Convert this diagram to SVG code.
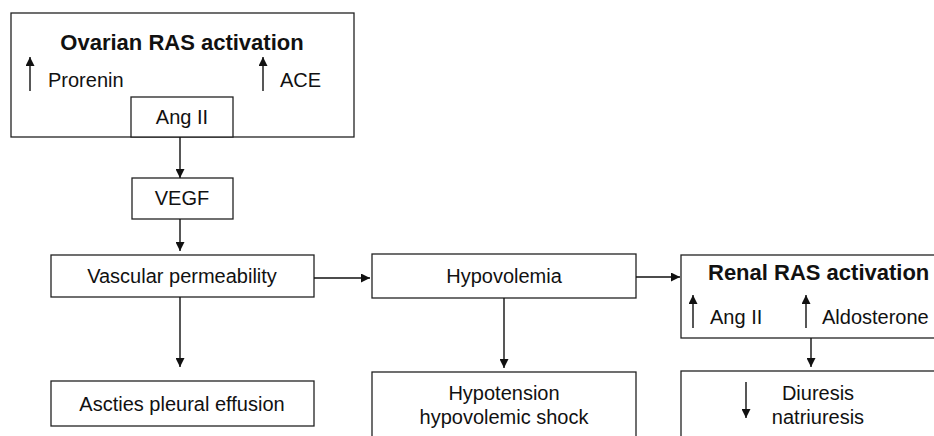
<svg xmlns="http://www.w3.org/2000/svg" width="934" height="436" viewBox="0 0 934 436">
<style>
.box{fill:#fff;stroke:#222;stroke-width:1.3}
.t{font-family:"Liberation Sans",Arial,sans-serif;font-size:20px;fill:#111}
.b{font-family:"Liberation Sans",Arial,sans-serif;font-size:22px;font-weight:bold;fill:#111}
.c{text-anchor:middle}
.ln{stroke:#111;stroke-width:1.4;fill:none}
</style>
<defs>
<marker id="ah" viewBox="0 0 10 10" refX="10" refY="5" markerWidth="9" markerHeight="9" markerUnits="userSpaceOnUse" orient="auto">
<path d="M0,0 L10,5 L0,10 z" fill="#111"/>
</marker>
</defs>
<rect width="934" height="436" fill="#fff"/>
<g id="ovarian">
<rect class="box" x="11" y="13" width="343" height="124"/>
<text class="b c" x="182" y="50">Ovarian RAS activation</text>
<line class="ln" x1="30" y1="91" x2="30" y2="57" marker-end="url(#ah)"/>
<text class="t" x="48" y="87">Prorenin</text>
<line class="ln" x1="263" y1="91" x2="263" y2="57" marker-end="url(#ah)"/>
<text class="t" x="280" y="87">ACE</text>
</g>
<g id="angii">
<rect class="box" x="131" y="97" width="102" height="40"/>
<text class="t c" x="182" y="124">Ang II</text>
</g>
<g id="vegf">
<rect class="box" x="132" y="178" width="101" height="41"/>
<text class="t c" x="182" y="205">VEGF</text>
</g>
<g id="vascular">
<rect class="box" x="51" y="255" width="263" height="42"/>
<text class="t c" x="182" y="283">Vascular permeability</text>
</g>
<g id="ascites">
<rect class="box" x="51" y="381" width="263" height="45"/>
<text class="t c" x="182" y="411">Ascties pleural effusion</text>
</g>
<g id="hypovolemia">
<rect class="box" x="372" y="254" width="264" height="44"/>
<text class="t c" x="504" y="283">Hypovolemia</text>
</g>
<g id="hypotension">
<rect class="box" x="372" y="372" width="264" height="100"/>
<text class="t c" x="504" y="400">Hypotension</text>
<text class="t c" x="504" y="424">hypovolemic shock</text>
</g>
<g id="renal">
<rect class="box" x="681" y="255" width="300" height="83"/>
<text class="b" x="708" y="280">Renal RAS activation</text>
<line class="ln" x1="693" y1="328" x2="693" y2="295" marker-end="url(#ah)"/>
<text class="t" x="710" y="324">Ang II</text>
<line class="ln" x1="806" y1="328" x2="806" y2="295" marker-end="url(#ah)"/>
<text class="t" x="822" y="324">Aldosterone</text>
</g>
<g id="diuresis">
<rect class="box" x="681" y="371" width="300" height="100"/>
<line class="ln" x1="746" y1="382" x2="746" y2="418" marker-end="url(#ah)"/>
<text class="t c" x="818" y="400">Diuresis</text>
<text class="t c" x="818" y="424">natriuresis</text>
</g>
<g id="connectors">
<line class="ln" x1="180" y1="137" x2="180" y2="178" marker-end="url(#ah)"/>
<line class="ln" x1="180" y1="219" x2="180" y2="251" marker-end="url(#ah)"/>
<line class="ln" x1="180" y1="297" x2="180" y2="367" marker-end="url(#ah)"/>
<line class="ln" x1="314" y1="278" x2="370" y2="278" marker-end="url(#ah)"/>
<line class="ln" x1="504" y1="298" x2="504" y2="368" marker-end="url(#ah)"/>
<line class="ln" x1="636" y1="277" x2="680" y2="277" marker-end="url(#ah)"/>
<line class="ln" x1="811" y1="338" x2="811" y2="367" marker-end="url(#ah)"/>
</g>
</svg>
